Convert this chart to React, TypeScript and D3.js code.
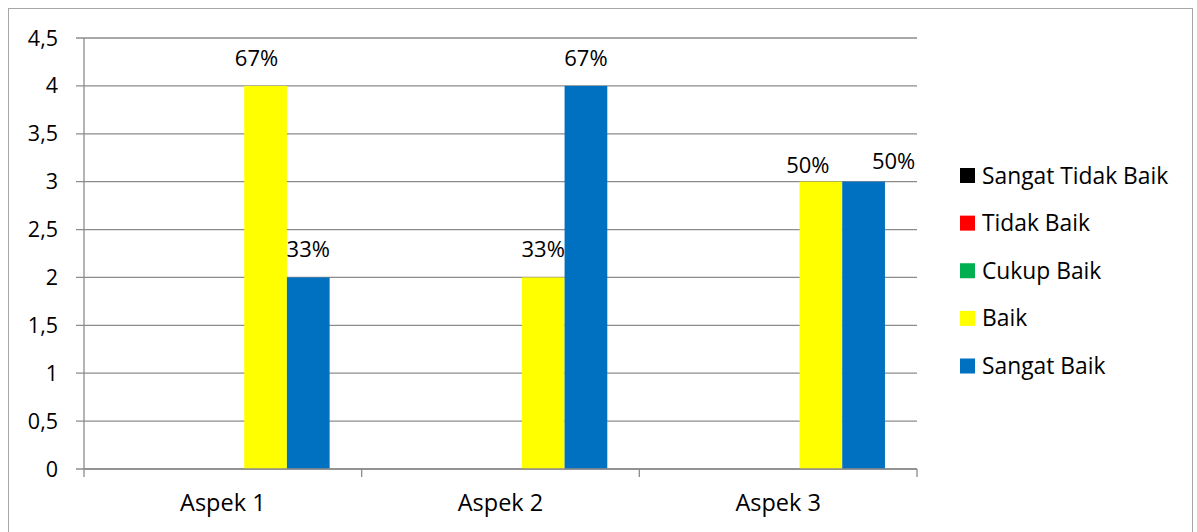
import * as d3 from "d3";

const categories = ["Aspek 1", "Aspek 2", "Aspek 3"];
const seriesNames = ["Sangat Tidak Baik", "Tidak Baik", "Cukup Baik", "Baik", "Sangat Baik"];
const seriesColors = ["#000000", "#ff0000", "#00b050", "#ffff00", "#0070c0"];
const sangatTidakBaik = [0, 0, 0];
const tidakBaik = [0, 0, 0];
const cukupBaik = [0, 0, 0];
const baik = [4, 2, 3];
const sangatBaik = [2, 4, 3];
const baikLabels = ["67%", "33%", "50%"];
const sangatBaikLabels = ["33%", "67%", "50%"];
const yTicks = [0, 0.5, 1, 1.5, 2, 2.5, 3, 3.5, 4, 4.5];

const values = [sangatTidakBaik, tidakBaik, cukupBaik, baik, sangatBaik];
const labels = [null, null, null, baikLabels, sangatBaikLabels];

// labels that were dragged by hand in the original (series, category) -> [dx, dy]
const nudge: Record<string, [number, number]> = {
  "3-0": [-9, 0],
  "3-2": [-13, 11],
  "4-2": [30, 7],
};

const W = 1197;
const H = 532;
const left = 84;
const right = 917;
const top = 38;
const bottom = 469;
const font = "'Open Sans', sans-serif";
const grid = "#8c8c8c";

export default function App() {
  const x = d3.scaleBand<string>().domain(categories).range([left, right]).padding(0);
  const xs = d3
    .scaleBand<number>()
    .domain(d3.range(seriesNames.length))
    .range([0, x.bandwidth()])
    .paddingInner(0)
    .paddingOuter(0.75);
  const y = d3.scaleLinear().domain([0, 4.5]).range([bottom, top]);
  const fmt = (v: number) => String(v).replace(".", ",");

  const legendY = d3
    .scalePoint<string>()
    .domain(seriesNames)
    .range([175.5, 366]);

  return (
    <div style={{ position: "fixed", left: 0, top: 0 }}>
      <svg width={W} height={H} style={{ display: "block", background: "#fff" }}>
        <rect x={8.5} y={8.5} width={1184} height={540} fill="#fff" stroke="#a6a6a6" />

        {yTicks.map((t) => (
          <g key={t}>
            <line x1={left - 8} x2={right} y1={y(t)} y2={y(t)} stroke={grid} strokeWidth={1.3} />
            <text
              x={58}
              y={y(t) + 7.5}
              textAnchor="end"
              fontFamily={font}
              fontSize={21.5}
              fill="#000"
            >
              {fmt(t)}
            </text>
          </g>
        ))}
        <line x1={left} x2={left} y1={top} y2={bottom} stroke={grid} strokeWidth={1.3} />

        {categories.map((c, ci) => (
          <g key={c}>
            {seriesNames.map((s, si) => {
              const v = values[si][ci];
              const bx = (x(c) as number) + (xs(si) as number);
              return (
                <rect
                  key={s}
                  x={bx}
                  y={y(v)}
                  width={xs.bandwidth()}
                  height={bottom - y(v)}
                  fill={seriesColors[si]}
                />
              );
            })}
          </g>
        ))}

        {categories.map((c, ci) =>
          seriesNames.map((s, si) => {
            const lab = labels[si];
            if (!lab || values[si][ci] === 0) return null;
            const [dx, dy] = nudge[`${si}-${ci}`] || [0, 0];
            const cx = (x(c) as number) + (xs(si) as number) + xs.bandwidth() / 2;
            return (
              <text
                key={`${s}-${c}`}
                x={cx + dx}
                y={y(values[si][ci]) - 20 + dy}
                textAnchor="middle"
                fontFamily={font}
                fontSize={22}
                fill="#000"
              >
                {lab[ci]}
              </text>
            );
          })
        )}

        <line x1={left} x2={right} y1={bottom} y2={bottom} stroke={grid} strokeWidth={1.3} />
        {[...categories.map((c) => x(c) as number), right].map((tx, i) => (
          <line key={i} x1={tx} x2={tx} y1={bottom} y2={bottom + 8} stroke={grid} strokeWidth={1.3} />
        ))}
        {categories.map((c) => (
          <text
            key={c}
            x={(x(c) as number) + x.bandwidth() / 2}
            y={511}
            textAnchor="middle"
            fontFamily={font}
            fontSize={23.5}
            fill="#000"
          >
            {c}
          </text>
        ))}

        {seriesNames.map((s, si) => (
          <g key={s} transform={`translate(960,${legendY(s)})`}>
            <rect x={0} y={-7.5} width={15} height={15} fill={seriesColors[si]} />
            <text x={22} y={8} fontFamily={font} fontSize={22.8} fill="#000">
              {s}
            </text>
          </g>
        ))}
      </svg>
    </div>
  );
}
